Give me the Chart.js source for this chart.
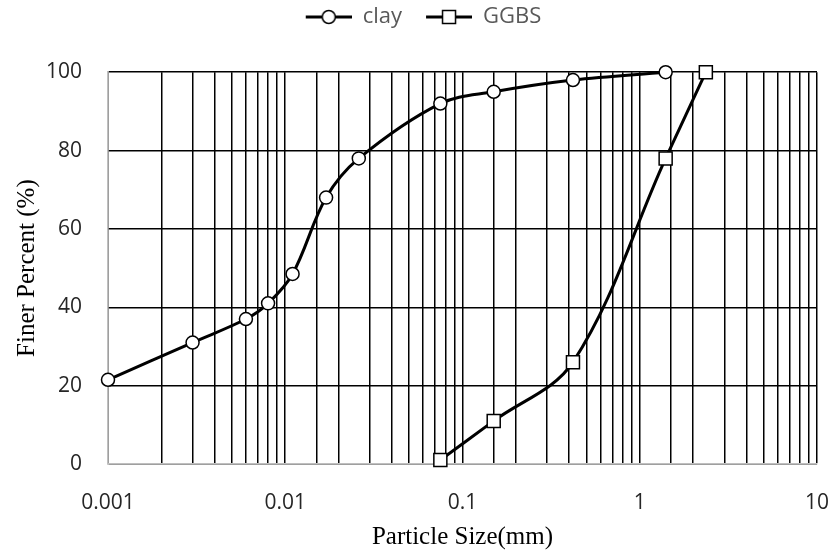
<!DOCTYPE html>
<html>
<head>
<meta charset="utf-8">
<script src="https://cdn.jsdelivr.net/npm/chart.js@4/dist/chart.umd.min.js"></script>
<style>
  html, body { margin: 0; padding: 0; background: #fff; }
  #wrap { width: 829px; height: 552px; }
</style>
</head>
<body>
<div id="wrap"><canvas id="grainChart" width="829" height="552"></canvas></div>
<script>
// particle size (mm) and percent finer
var clayX = [0.001, 0.003, 0.006, 0.008, 0.011, 0.017, 0.026, 0.075, 0.15, 0.42, 1.4];
var clayY = [21.5, 31, 37, 41, 48.5, 68, 78, 92, 95, 98, 100];
var ggbsX = [0.075, 0.15, 0.42, 1.4, 2.36];
var ggbsY = [1, 11, 26, 78, 100];
var yTicks = [0, 20, 40, 60, 80, 100];

function toPoints(xs, ys) {
  return xs.map(function (x, i) { return { x: x, y: ys[i] }; });
}

// line-with-marker icons for the legend (blank strip on the left keeps items apart)
function legendIcon(shape) {
  var c = document.createElement('canvas');
  c.width = 64; c.height = 18;
  var g = c.getContext('2d');
  g.strokeStyle = '#000';
  g.lineWidth = 3;
  g.beginPath(); g.moveTo(18, 9); g.lineTo(64, 9); g.stroke();
  g.fillStyle = '#fff';
  g.lineWidth = 1.5;
  g.beginPath();
  if (shape === 'circle') g.arc(41, 9, 6.5, 0, Math.PI * 2);
  else g.rect(34.5, 2.5, 13, 13);
  g.fill(); g.stroke();
  return c;
}
var icons = { clay: legendIcon('circle'), GGBS: legendIcon('rect') };

var sans = '"Open Sans", "Noto Sans", sans-serif';
var serif = '"Liberation Serif", "Times New Roman", serif';

var ctx = document.getElementById('grainChart').getContext('2d');
var chart = new Chart(ctx, {
  type: 'scatter',
  data: {
    datasets: [{
      label: 'clay',
      data: toPoints(clayX, clayY),
      showLine: true,
      tension: 0.35,
      borderColor: '#000',
      borderWidth: 3,
      pointStyle: 'circle',
      pointRadius: 6.5,
      pointBackgroundColor: '#fff',
      pointBorderColor: '#000',
      pointBorderWidth: 1.5
    }, {
      label: 'GGBS',
      data: toPoints(ggbsX, ggbsY),
      showLine: true,
      tension: 0.35,
      borderColor: '#000',
      borderWidth: 3,
      pointStyle: 'rect',
      pointRadius: 9.2,
      pointBackgroundColor: '#fff',
      pointBorderColor: '#000',
      pointBorderWidth: 1.5
    }]
  },
  options: {
    responsive: false,
    animation: false,
    clip: false,
    layout: { padding: { top: 0, right: 0, bottom: 0, left: 0 } },
    plugins: {
      tooltip: { enabled: false },
      legend: {
        position: 'top',
        labels: {
          usePointStyle: true,
          pointStyleWidth: 64,
          boxHeight: 18,
          padding: 6,
          color: '#595959',
          font: { family: sans, size: 22 },
          generateLabels: function (chart) {
            return chart.data.datasets.map(function (ds, i) {
              return {
                text: ds.label,
                pointStyle: icons[ds.label],
                fontColor: '#595959',
                hidden: false,
                datasetIndex: i
              };
            });
          }
        }
      },
      // empty spacer between the legend and the plot
      subtitle: {
        display: true,
        text: '',
        weight: 500,
        font: { size: 1 },
        padding: { top: 33, bottom: 0 }
      }
    },
    scales: {
      x: {
        type: 'logarithmic',
        min: 0.001,
        max: 10,
        afterFit: function (s) { s.height = 88; },
        grid: {
          color: '#000',
          lineWidth: 1.5,
          tickLength: 26,
          tickColor: 'rgba(0,0,0,0)'
        },
        border: { color: '#bfbfbf', width: 1.5 },
        ticks: {
          autoSkip: false,
          maxRotation: 0,
          padding: 0,
          color: '#262626',
          font: { family: sans, size: 21 },
          callback: function (v) {
            var e = Math.log10(v);
            return Math.abs(e - Math.round(e)) < 1e-6 ? String(+Number(v).toPrecision(1)) : '';
          }
        },
        title: {
          display: true,
          text: 'Particle Size(mm)',
          color: '#000',
          font: { family: serif, size: 25 },
          padding: { top: 0, bottom: 0 }
        }
      },
      y: {
        min: 0,
        max: 100,
        afterFit: function (s) { s.width = 108; },
        afterBuildTicks: function (s) {
          s.ticks = yTicks.map(function (v) { return { value: v }; });
        },
        grid: { color: '#000', lineWidth: 1.5, drawTicks: false },
        border: { color: '#bfbfbf', width: 1.5 },
        ticks: {
          padding: 26,
          color: '#262626',
          font: { family: sans, size: 21 }
        },
        title: {
          display: true,
          text: 'Finer Percent (%)',
          color: '#000',
          font: { family: serif, size: 25 },
          padding: { top: 12, bottom: 0 }
        }
      }
    }
  }
});
</script>
</body>
</html>
